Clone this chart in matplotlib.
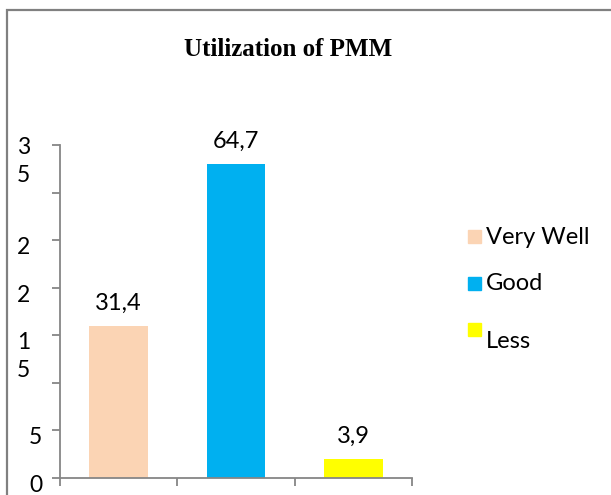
import matplotlib.pyplot as plt
from matplotlib.patches import Rectangle
from matplotlib.transforms import offset_copy

# data (bar height = number of answers, label = percent)
categories = ['Very Well', 'Good', 'Less']
counts = [16, 33, 2]
percent_labels = ['31,4', '64,7', '3,9']
colors = ['#FBD4B4', '#00B0F0', '#FFFF00']

ytick_vals = [0, 5, 10, 15, 20, 25, 30, 35]
ytick_text = ['0', '5', '', '1\n5', '2', '2', '', '3\n5']

W, H = 611, 495
label_font = 'Lato'

fig = plt.figure(figsize=(W / 100, H / 100), dpi=100)
ax = fig.add_axes([60 / W, 17 / H, 352 / W, 333 / H])

x = range(len(categories))
ax.bar(x, counts, width=0.5, color=colors)
ax.set_xlim(-0.5, 2.5)
ax.set_ylim(0, 35)

for s in ['top', 'right']:
    ax.spines[s].set_visible(False)
for s in ['left', 'bottom']:
    ax.spines[s].set_color('#868686')
    ax.spines[s].set_linewidth(1.3)

ax.set_xticks([-0.5, 0.5, 1.5, 2.5])
ax.set_xticklabels([])
ax.set_yticks(ytick_vals)
ax.set_yticklabels([])
ax.tick_params(axis='both', direction='out', length=5.5, width=1.3, color='#868686')

# odd wrapped tick labels, drawn by hand
ytr = ax.get_yaxis_transform()
for v, t in zip(ytick_vals, ytick_text):
    if not t:
        continue
    xpos = (17 - 60) / 352 if v >= 15 else (29 - 60) / 352
    tr = offset_copy(ytr, fig=fig, x=0, y=3 if v < 35 else 8, units='dots')
    ax.text(xpos, v, t, transform=tr, ha='left', va='top', fontsize=16.5,
            family=label_font, linespacing=1.4, clip_on=False)

# value labels
for xi, c, lab in zip(x, counts, percent_labels):
    ax.annotate(lab, (xi, c), xytext=(0, 8.5), textcoords='offset points',
                ha='center', va='bottom', fontsize=17, family=label_font)

fig.text(288.5 / W, 1 - 49 / H, 'Utilization of PMM', ha='center', va='center',
         fontsize=18, fontweight='bold', family='Liberation Serif')

# legend
for i, (name, col) in enumerate(zip(categories, colors)):
    cy = 236.5 + i * 46.5
    fig.add_artist(Rectangle((468 / W, 1 - (cy + 6.5) / H), 13 / W, 13 / H,
                             transform=fig.transFigure, color=col))
    ty = cy + (12 if name == 'Less' else 1)
    fig.text(486 / W, 1 - ty / H, name, ha='left', va='center',
             fontsize=17, family=label_font)

# outer frame of the figure box
fig.add_artist(Rectangle((6.5 / W, -0.2), 1.0, 1.2 - 9.5 / H, transform=fig.transFigure,
                         fill=False, edgecolor='#808080', linewidth=1.6))

fig.savefig('out.png', dpi=100)
